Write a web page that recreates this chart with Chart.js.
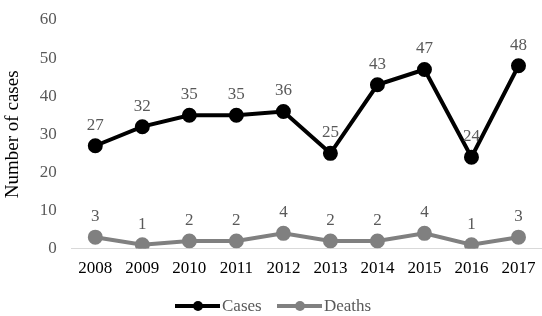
<!DOCTYPE html>
<html>
<head>
<meta charset="utf-8">
<script src="https://cdn.jsdelivr.net/npm/chart.js@4"></script>
<style>
  html, body { margin: 0; padding: 0; background: #fff; }
  #wrap { width: 542px; height: 316px; position: relative; }
</style>
</head>
<body>
<div id="wrap"><canvas id="chart"></canvas></div>
<script>
const years = ["2008", "2009", "2010", "2011", "2012", "2013", "2014", "2015", "2016", "2017"];
const cases = [27, 32, 35, 35, 36, 25, 43, 47, 24, 48];
const deaths = [3, 1, 2, 2, 4, 2, 2, 4, 1, 3];
const yTicks = [0, 10, 20, 30, 40, 50, 60];

const serif = "'Liberation Serif', 'Times New Roman', serif";

// value labels above each point
const pointLabels = {
    id: "pointLabels",
    afterDatasetsDraw(chart) {
        const ctx = chart.ctx;
        ctx.save();
        ctx.font = "17px " + serif;
        ctx.fillStyle = "#595959";
        ctx.textAlign = "center";
        ctx.textBaseline = "bottom";
        chart.data.datasets.forEach((ds, i) => {
            const meta = chart.getDatasetMeta(i);
            meta.data.forEach((pt, j) => {
                ctx.fillText(ds.data[j], pt.x, pt.y - 12);
            });
        });
        ctx.restore();
    }
};

// legend at the bottom: line + dot + text
const bottomLegend = {
    id: "bottomLegend",
    afterDraw(chart) {
        const ctx = chart.ctx;
        const y = 306;
        const items = [
            { label: "Cases", color: "#000000", x: 175 },
            { label: "Deaths", color: "#808080", x: 277 }
        ];
        ctx.save();
        ctx.font = "17px " + serif;
        ctx.textBaseline = "middle";
        items.forEach(it => {
            ctx.strokeStyle = it.color;
            ctx.lineWidth = 4;
            ctx.beginPath();
            ctx.moveTo(it.x, y);
            ctx.lineTo(it.x + 45, y);
            ctx.stroke();
            ctx.fillStyle = it.color;
            ctx.beginPath();
            ctx.arc(it.x + 23, y, 5, 0, Math.PI * 2);
            ctx.fill();
            ctx.fillStyle = "#595959";
            ctx.fillText(it.label, it.x + 47, y + 1);
        });
        ctx.restore();
    }
};

new Chart(document.getElementById("chart"), {
    type: "line",
    data: {
        labels: years,
        datasets: [
            {
                label: "Cases",
                data: cases,
                borderColor: "#000000",
                backgroundColor: "#000000",
                borderWidth: 4,
                pointRadius: 5.5,
                tension: 0
            },
            {
                label: "Deaths",
                data: deaths,
                borderColor: "#808080",
                backgroundColor: "#808080",
                borderWidth: 4,
                pointRadius: 5.5,
                tension: 0
            }
        ]
    },
    options: {
        responsive: true,
        maintainAspectRatio: false,
        animation: false,
        layout: { autoPadding: false, padding: { top: 20, right: 0, left: 0, bottom: 27 } },
        plugins: {
            legend: { display: false },
            tooltip: { enabled: false }
        },
        scales: {
            x: {
                offset: true,
                grid: { display: false, drawTicks: false },
                border: { color: "#d9d9d9", width: 1 },
                ticks: { color: "#000", font: { family: serif, size: 17 }, padding: 10 },
                afterFit(axis) {
                    axis.paddingLeft = 0;
                    axis.paddingRight = 0;
                }
            },
            y: {
                min: 0,
                max: 60,
                afterBuildTicks(axis) {
                    axis.ticks = yTicks.map(v => ({ value: v }));
                },
                afterFit(axis) {
                    axis.paddingTop = 0;
                    axis.paddingBottom = 0;
                },
                grid: { display: false, drawTicks: false },
                border: { display: false },
                ticks: { color: "#595959", font: { family: serif, size: 17 }, padding: 15 },
                title: {
                    display: true,
                    text: "Number of cases",
                    color: "#000",
                    font: { family: serif, size: 19 },
                    padding: { top: 2, bottom: 0 }
                }
            }
        }
    },
    plugins: [pointLabels, bottomLegend]
});
</script>
</body>
</html>
